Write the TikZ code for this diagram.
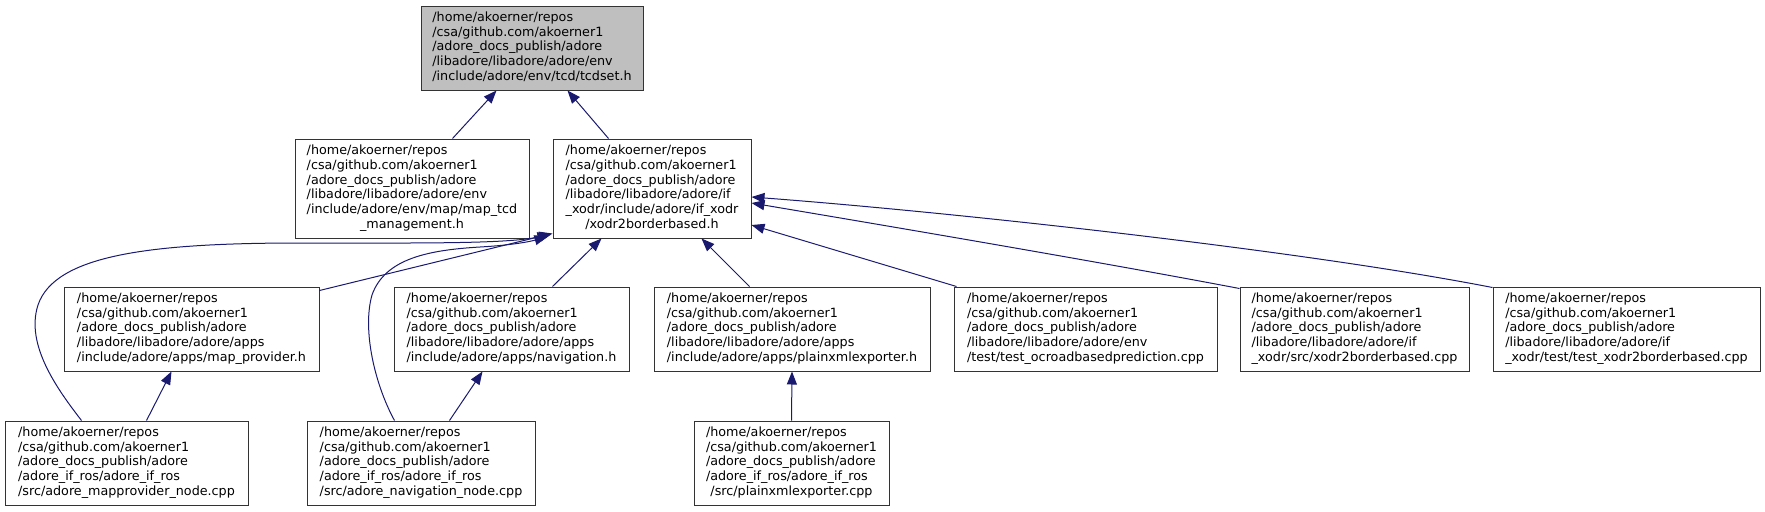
\documentclass[tikz,border=0pt]{standalone}
\usepackage{fontspec}
\setmainfont{DejaVu Sans}
\usetikzlibrary{arrows.meta,calc}
\definecolor{edgeblue}{HTML}{191970}
\definecolor{topgray}{HTML}{BFBFBF}
\definecolor{boxline}{HTML}{333333}
\newcommand{\flbl}[2]{\begin{tabular}{@{}l@{}}#1\\\multicolumn{1}{@{}c@{}}{#2}\end{tabular}}
\newcommand{\hdrA}{/home/akoerner/repos\\/csa/github.com/akoerner1\\/adore\_docs\_publish/adore}
\tikzset{
  filebox/.style={draw=boxline, line width=0.75pt, rectangle, inner sep=0pt, fill=white,
    font=\fontsize{9.55pt}{11.1pt}\selectfont, minimum height=63pt},
  sixbox/.style={minimum height=74.25pt},
  edge/.style={draw=edgeblue, line width=0.75pt, -{Triangle[length=9.75pt,width=7.5pt]}}
}
\begin{document}
\begin{tikzpicture}[x=0.75pt,y=-0.75pt]
\useasboundingbox (0,0) rectangle (1765,511);
% nodes
\node[filebox, fill=topgray, minimum width=166.5pt] (tcdset) at (532,48)
  {\flbl{\hdrA\\/libadore/libadore/adore/env}{/include/adore/env/tcd/tcdset.h}};
\node[filebox, sixbox, minimum width=175.5pt] (maptcd) at (412,188.5)
  {\flbl{\hdrA\\/libadore/libadore/adore/env\\/include/adore/env/map/map\_tcd}{\_management.h}};
\node[filebox, sixbox, minimum width=148.5pt] (xodr) at (652,188.5)
  {\flbl{\hdrA\\/libadore/libadore/adore/if\\\_xodr/include/adore/if\_xodr}{/xodr2borderbased.h}};
\node[filebox, minimum width=191.25pt] (mapprov) at (191.5,329)
  {\flbl{\hdrA\\/libadore/libadore/adore/apps}{/include/adore/apps/map\_provider.h}};
\node[filebox, minimum width=176.25pt] (nav) at (511.5,329)
  {\flbl{\hdrA\\/libadore/libadore/adore/apps}{/include/adore/apps/navigation.h}};
\node[filebox, minimum width=207pt] (plainh) at (792,329)
  {\flbl{\hdrA\\/libadore/libadore/adore/apps}{/include/adore/apps/plainxmlexporter.h}};
\node[filebox, minimum width=197.25pt] (ocroad) at (1085.5,329)
  {\flbl{\hdrA\\/libadore/libadore/adore/env}{/test/test\_ocroadbasedprediction.cpp}};
\node[filebox, minimum width=171.75pt] (xcpp) at (1354.5,329)
  {\flbl{\hdrA\\/libadore/libadore/adore/if}{\_xodr/src/xodr2borderbased.cpp}};
\node[filebox, minimum width=200.25pt] (xtest) at (1626.5,329)
  {\flbl{\hdrA\\/libadore/libadore/adore/if}{\_xodr/test/test\_xodr2borderbased.cpp}};
\node[filebox, minimum width=182.25pt] (mpnode) at (126.5,463)
  {\flbl{\hdrA\\/adore\_if\_ros/adore\_if\_ros}{/src/adore\_mapprovider\_node.cpp}};
\node[filebox, minimum width=171pt] (navnode) at (421,463)
  {\flbl{\hdrA\\/adore\_if\_ros/adore\_if\_ros}{/src/adore\_navigation\_node.cpp}};
\node[filebox, minimum width=146.25pt] (plaincpp) at (791.5,463)
  {\flbl{\hdrA\\/adore\_if\_ros/adore\_if\_ros}{/src/plainxmlexporter.cpp}};
% edges
\draw[edge] ($(maptcd.north west)+(158,0)$) -- ($(tcdset.south west)+(76,0)$);
\draw[edge] ($(xodr.north west)+(56,0)$) -- ($(tcdset.south west)+(147,0)$);
\draw[edge] ($(mapprov.north east)+(0,4)$) -- ($(xodr.south west)+(0,-5)$);
\draw[edge] ($(mpnode.north west)+(77,0)$) .. controls (58,390) and (25,345) .. (38,305)
  .. controls (55,255) and (150,243) .. (300,243)
  .. controls (420,243) and (505,244) .. ($(xodr.south west)+(-2,-4)$);
\draw[edge] ($(navnode.north west)+(88,0)$) .. controls (375,385) and (362,330) .. (372,295)
  .. controls (385,258) and (430,250) .. (480,247)
  .. controls (515,245) and (532,241) .. ($(xodr.south west)+(-5,-2)$);
\draw[edge] ($(nav.north west)+(159,0)$) -- ($(xodr.south west)+(49,0)$);
\draw[edge] ($(plainh.north west)+(96,0)$) -- ($(xodr.south west)+(149,0)$);
\draw[edge] ($(ocroad.north west)+(3,0)$) -- ($(xodr.east)+(0,36.5)$);
\draw[edge] ($(xcpp.north west)+(0,2)$) .. controls (1100,262) and (900,228) .. ($(xodr.east)+(0,14.5)$);
\draw[edge] ($(xtest.north west)+(0,1)$) .. controls (1300,250) and (950,212) .. ($(xodr.east)+(0,8.5)$);
\draw[edge] ($(mpnode.north west)+(142,0)$) -- ($(mapprov.south west)+(108,0)$);
\draw[edge] ($(navnode.north west)+(143,0)$) -- ($(nav.south west)+(89,0)$);
\draw[edge] (plaincpp.north) -- (plainh.south);
\end{tikzpicture}
\end{document}
